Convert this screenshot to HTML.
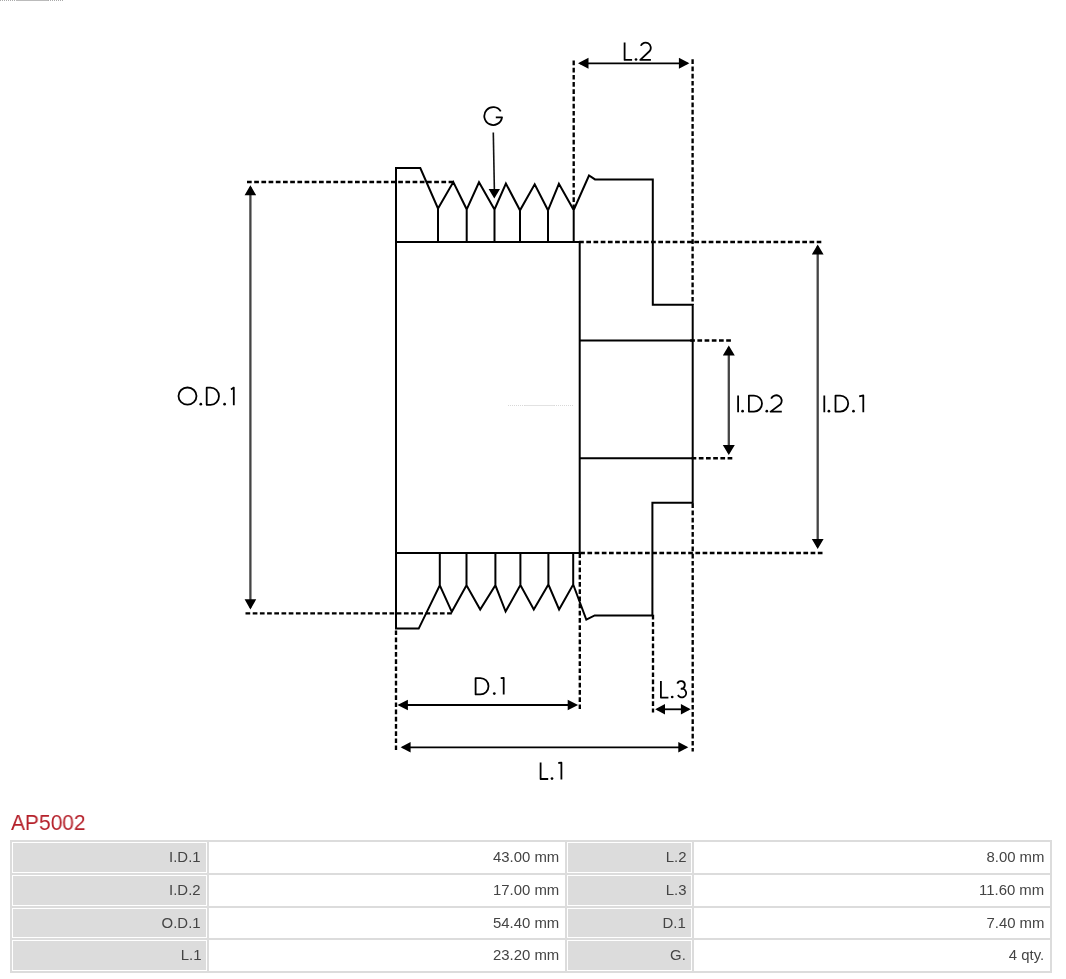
<!DOCTYPE html><html><head><meta charset="utf-8"><style>
html,body{margin:0;padding:0;background:#fff;}
body{width:1066px;height:979px;position:relative;overflow:hidden;font-family:"Liberation Sans",sans-serif;}
.c{position:absolute;border:1px solid #fff;text-align:right;color:#444;font-size:14px;line-height:29px;}
.c span{display:inline-block;margin-right:5px;transform:scaleX(1.065);transform-origin:100% 50%;will-change:transform;}
.ttl{position:absolute;left:11px;top:810px;color:#b5202a;font-size:21.5px;line-height:26px;white-space:nowrap;transform:scaleX(0.975);transform-origin:0 0;will-change:transform;}
</style></head><body><svg width="70" height="2" style="position:absolute;left:0;top:0"><path d="M0,0.5 H16" stroke="#aaa" stroke-width="1" stroke-dasharray="1 1"/><path d="M16,0.5 H48" stroke="#bbb" stroke-width="1"/><path d="M48,0.5 H64" stroke="#aaa" stroke-width="1" stroke-dasharray="1 1"/></svg><svg width="1066" height="800" viewBox="0 0 1066 800" style="position:absolute;left:0;top:0"><path d="M396,168 L420.3,168 L438,208.5 L453.3,182 L466.7,209.3 L479,182.3 L494.5,209.5 L505.9,183.5 L520,210.3 L534.7,184.3 L548,210.3 L558.9,183.8 L573.7,210 L589,175.5 L595,179.4 L652.8,179.4 L652.8,304.7 L692.7,304.7 L692.7,502.7 L652.4,502.7 L652.4,615.4 L594.7,615.4 L586.3,619.7 L573.2,584.5 L559.1,609.5 L548.4,584.5 L533.8,609.5 L520.4,585 L505.6,611.5 L495.4,585.3 L480.2,609.6 L466.5,585.3 L451.8,611.8 L439.8,585.3 L418.7,628.6 L396,628.6 Z M438,208.5 V242 M466.7,209.3 V242 M494.5,209.5 V242 M520,210.3 V242 M548,210.3 V242 M573.7,210 V242 M439.8,553 V585.3 M466.5,553 V585.3 M495.4,553 V585.3 M520.4,553 V585 M548.4,553 V584.5 M573.2,553 V584.5 M396,242 H579.7 V553 H396 M579.7,340.5 H692.7 M579.7,458.2 H692.7" fill="none" stroke="#000" stroke-width="2" stroke-linejoin="miter" stroke-miterlimit="10"/><path d="M247,182 H453 M579.1,242 H821.3 M690.2,340.5 H731.2 M691.6,458.2 H732.4 M580.2,553 H822.6 M245.5,613.3 H452 M573.7,60.5 V210 M692.6,59.3 V305 M692.7,503.3 V751.5 M396,630.4 V750 M579.8,553.2 V710 M653,614.8 V712.5" fill="none" stroke="#000" stroke-width="2.35" stroke-dasharray="4.7 2.5"/><path d="M580,63.3 H687.4" stroke="#000" stroke-width="1.8" fill="none"/><path d="M578,63.3 L588.5,57.8 L588.5,68.8 Z M689.4,63.3 L678.9,57.8 L678.9,68.8 Z" fill="#000"/><path d="M399.5,705 H576.1" stroke="#000" stroke-width="1.8" fill="none"/><path d="M397.5,705 L407.9,699.8 L407.9,710.2 Z M578.1,705 L567.7,699.8 L567.7,710.2 Z" fill="#000"/><path d="M657.2,709.3 H688.7" stroke="#000" stroke-width="1.8" fill="none"/><path d="M655.2,709.3 L665,704.05 L665,714.55 Z M690.7,709.3 L680.9,704.05 L680.9,714.55 Z" fill="#000"/><path d="M402.6,747.3 H686.3" stroke="#000" stroke-width="1.8" fill="none"/><path d="M400.6,747.3 L410.6,742.1 L410.6,752.5 Z M688.3,747.3 L678.3,742.1 L678.3,752.5 Z" fill="#000"/><path d="M250.4,187.2 V607.4" stroke="#444" stroke-width="2.3" fill="none"/><path d="M250.4,185.2 L244.6,195.3 L256.2,195.3 Z M250.4,609.4 L244.6,599.3 L256.2,599.3 Z" fill="#000"/><path d="M817.7,246.5 V547.1" stroke="#444" stroke-width="2.3" fill="none"/><path d="M817.7,244.5 L811.8,254.5 L823.6,254.5 Z M817.7,549.1 L811.8,539.1 L823.6,539.1 Z" fill="#000"/><path d="M728.8,347.6 V453.1" stroke="#444" stroke-width="2.3" fill="none"/><path d="M728.8,345.6 L722.8,355.6 L734.8,355.6 Z M728.8,455.1 L722.8,445.1 L734.8,445.1 Z" fill="#000"/><path d="M508,405.5 H525 M554,405.5 H573" stroke="#d8d8d8" stroke-width="1" stroke-dasharray="1 1" fill="none"/><path d="M525,405.5 H554" stroke="#e2e2e2" stroke-width="1" fill="none"/><path d="M493.3,132.4 L494.4,191" stroke="#111" stroke-width="1.6" fill="none"/><path d="M494.3,198.5 L488.6,189.1 L500,189.1 Z" fill="#000"/><circle cx="636" cy="59.5" r="1.35" fill="#000"/><circle cx="200.8" cy="404.2" r="1.35" fill="#000"/><circle cx="224.6" cy="404.2" r="1.35" fill="#000"/><circle cx="742.6" cy="411.2" r="1.35" fill="#000"/><circle cx="766.8" cy="411.2" r="1.35" fill="#000"/><circle cx="828.9" cy="411.2" r="1.35" fill="#000"/><circle cx="853.5" cy="411.2" r="1.35" fill="#000"/><circle cx="494.3" cy="693.6" r="1.35" fill="#000"/><circle cx="672.2" cy="697" r="1.35" fill="#000"/><circle cx="552" cy="778.6" r="1.35" fill="#000"/><path d="M624.6,42.6 V59.9 H632.1 M640.82,45.76 A5.19,5.19 0 1 1 649.69,50.99 L640.3,59.9 H650.9 M500.75,111.38 A8.9,8.9 0 1 0 502.01,117.34 H495.8 M178.5,396.1 A9,8.6 0 1 1 196.5,396.1 A9,8.6 0 1 1 178.5,396.1 Z M206.7,387.7 H210.45 A8.55,8.55 0 0 1 210.45,404.8 H206.7 Z M231,389.4 L233.8,387.6 V405.3 M738.1,395.5 V412.2 M748.9,395.6 H754 A8,8 0 0 1 754,411.6 H748.9 Z M771.15,398.64 A5.49,5.49 0 1 1 780.52,404.17 L770.6,411.6 H781.8 M824.3,395.5 V412.2 M835.5,395.6 H840.2 A8,8 0 0 1 840.2,411.6 H835.5 Z M859.2,396.4 L863.3,395.4 V412.3 M475.6,678.1 H480.35 A8.15,8.15 0 0 1 480.35,694.4 H475.6 Z M500.7,678.1 L503.7,677.9 V694.6 M660.9,680.9 V697.6 H668.4 M677.32,683.64 A3.85,3.85 0 1 1 680.78,688.81 M680.78,688.81 A4.35,4.35 0 1 1 677.92,694.99 M540.6,762.6 V779 H548.2 M558.3,763 L561.4,762.6 V779.4" fill="none" stroke="#000" stroke-width="1.8" stroke-linecap="butt" stroke-linejoin="round"/></svg><div class="ttl">AP5002</div><div style="position:absolute;left:10px;top:840px;width:1042px;height:133px;background:#dcdcdc"></div><div class="c" style="left:12px;top:842px;width:193px;height:28.75px;background:#dcdcdc"><span>I.D.1</span></div><div class="c" style="left:209px;top:842px;width:354px;height:28.75px;background:#fff"><span>43.00 mm</span></div><div class="c" style="left:567px;top:842px;width:123px;height:28.75px;background:#dcdcdc"><span>L.2</span></div><div class="c" style="left:694px;top:842px;width:354px;height:28.75px;background:#fff"><span>8.00 mm</span></div><div class="c" style="left:12px;top:874.75px;width:193px;height:28.75px;background:#dcdcdc"><span>I.D.2</span></div><div class="c" style="left:209px;top:874.75px;width:354px;height:28.75px;background:#fff"><span>17.00 mm</span></div><div class="c" style="left:567px;top:874.75px;width:123px;height:28.75px;background:#dcdcdc"><span>L.3</span></div><div class="c" style="left:694px;top:874.75px;width:354px;height:28.75px;background:#fff"><span>11.60 mm</span></div><div class="c" style="left:12px;top:907.5px;width:193px;height:28.75px;background:#dcdcdc"><span>O.D.1</span></div><div class="c" style="left:209px;top:907.5px;width:354px;height:28.75px;background:#fff"><span>54.40 mm</span></div><div class="c" style="left:567px;top:907.5px;width:123px;height:28.75px;background:#dcdcdc"><span>D.1</span></div><div class="c" style="left:694px;top:907.5px;width:354px;height:28.75px;background:#fff"><span>7.40 mm</span></div><div class="c" style="left:12px;top:940.25px;width:193px;height:28.75px;background:#dcdcdc"><span>L.1</span></div><div class="c" style="left:209px;top:940.25px;width:354px;height:28.75px;background:#fff"><span>23.20 mm</span></div><div class="c" style="left:567px;top:940.25px;width:123px;height:28.75px;background:#dcdcdc"><span>G.</span></div><div class="c" style="left:694px;top:940.25px;width:354px;height:28.75px;background:#fff"><span>4 qty.</span></div></body></html>
